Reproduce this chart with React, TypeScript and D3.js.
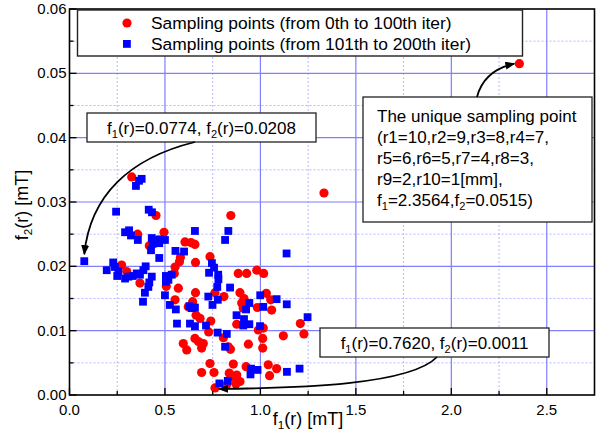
import React from "react";
import * as d3 from "d3";

// ---------- data ----------
const redX = [0.326,0.453,0.357,0.418,0.495,0.605,0.636,0.657,0.845,0.736,0.660,0.581,0.576,0.553,0.549,0.273,0.300,0.369,0.507,0.570,0.660,0.884,0.928,0.981,1.017,0.762,0.809,0.893,0.914,1.031,1.054,0.553,0.645,0.622,0.902,0.910,0.984,1.059,0.684,0.740,0.663,0.876,0.989,1.015,1.120,0.806,0.832,0.843,0.596,0.657,0.675,0.701,0.692,0.614,0.937,1.012,0.736,0.858,0.925,1.041,1.085,0.692,0.757,0.837,0.855,0.876,0.893,0.872,0.823,0.7620,1.209,1.228,1.012,0.729,1.048,2.3564,1.333];
const redY = [0.0339,0.0279,0.0250,0.0232,0.0253,0.0238,0.0237,0.0234,0.0279,0.0215,0.0206,0.0214,0.0207,0.0199,0.0189,0.0202,0.0192,0.0174,0.0169,0.0166,0.0159,0.0189,0.0189,0.0194,0.0189,0.0159,0.0153,0.0159,0.0150,0.0158,0.0148,0.0148,0.0145,0.0137,0.0143,0.0135,0.0136,0.0132,0.0119,0.0115,0.0124,0.0110,0.0101,0.0104,0.0092,0.0089,0.0075,0.0071,0.0080,0.0088,0.0083,0.0080,0.0073,0.0070,0.0079,0.0073,0.0049,0.0048,0.0044,0.0047,0.0041,0.0035,0.0035,0.0034,0.0028,0.0031,0.0021,0.0017,0.0016,0.0011,0.0111,0.0095,0.0088,0.0098,0.0030,0.0515,0.0314];

const blueX = [0.0774,0.348,0.364,0.378,0.244,0.415,0.432,0.291,0.312,0.322,0.358,0.431,0.453,0.474,0.500,0.436,0.470,0.427,0.470,0.555,0.600,0.657,0.195,0.229,0.238,0.256,0.250,0.291,0.308,0.331,0.352,0.369,0.399,0.387,0.431,0.418,0.413,0.505,0.518,0.535,0.505,0.395,0.500,0.832,0.815,1.137,0.746,0.757,0.779,0.780,0.731,0.774,0.841,0.999,1.085,0.727,0.777,0.749,0.628,0.657,0.640,0.942,0.925,1.015,1.138,0.875,0.914,0.910,0.942,0.998,0.631,0.657,0.715,0.776,0.824,0.815,0.951,0.948,0.985,1.139,1.205,0.785,0.829,1.247,0.385,0.526,0.557,0.563];
const blueY = [0.0208,0.0325,0.0333,0.0336,0.0285,0.0288,0.0284,0.0253,0.0256,0.0248,0.0241,0.0244,0.0241,0.0242,0.0241,0.0235,0.0236,0.0225,0.0213,0.0224,0.0223,0.0255,0.0194,0.0206,0.0199,0.0192,0.0185,0.0181,0.0184,0.0185,0.0189,0.0187,0.0200,0.0194,0.0184,0.0175,0.0168,0.0185,0.0179,0.0187,0.0176,0.0159,0.0155,0.0255,0.0241,0.0220,0.0205,0.0198,0.0187,0.0180,0.0190,0.0168,0.0167,0.0155,0.0149,0.0153,0.0148,0.0140,0.0138,0.0136,0.0135,0.0143,0.0133,0.0137,0.0141,0.0124,0.0118,0.0108,0.0110,0.0107,0.0111,0.0107,0.0108,0.0097,0.0095,0.0075,0.0041,0.0032,0.0039,0.0036,0.0041,0.0018,0.0022,0.0121,0.0145,0.0140,0.0133,0.0111];

const xTicks = [0, 0.5, 1.0, 1.5, 2.0, 2.5];
const yTicks = [0, 0.01, 0.02, 0.03, 0.04, 0.05, 0.06];
const xMinor = [0.25, 0.75, 1.25, 1.75, 2.25];
const yMinor = [0.005, 0.015, 0.025, 0.035, 0.045, 0.055];

const legendLabels = [
  "Sampling points (from 0th to 100th iter)",
  "Sampling points (from 101th to 200th iter)",
];
const boxLines = [
  "The unique sampling point",
  "(r1=10,r2=9,r3=8,r4=7,",
  "r5=6,r6=5,r7=4,r8=3,",
  "r9=2,r10=1[mm],",
];
const annA = { x: 0.0774, y: 0.0208, f1: "0.0774", f2: "0.0208" };
const annB = { x: 0.7620, y: 0.0011, f1: "0.7620", f2: "0.0011" };
const annC = { x: 2.3564, y: 0.0515, f1: "2.3564", f2: "0.0515" };

const W = 606, H = 435;
const L = 69.5, R = 594.5, T = 9, B = 395;
const FONT = "'Liberation Sans', Arial, Helvetica, sans-serif";

export default function App() {
  const x = d3.scaleLinear().domain([0, 2.75]).range([L, R]);
  const y = d3.scaleLinear().domain([0, 0.06]).range([B, T]);
  const fmtX = d3.format(".1f");
  const fmtY = d3.format(".2f");

  const Sub = ({ base, sub, rest, size }: any) => (
    <>
      {base}
      <tspan dy={4} fontSize={size * 0.65}>{sub}</tspan>
      <tspan dy={-4}>{rest}</tspan>
    </>
  );

  const aA = { x: x(annA.x), y: y(annA.y) };
  const aB = { x: x(annB.x), y: y(annB.y) };
  const aC = { x: x(annC.x), y: y(annC.y) };
  const pathA = `M195,142 C130,158 ${aA.x + 6},195 ${aA.x},${aA.y - 7}`;
  const pathB = `M437,357 C410,385 300,${aB.y} ${aB.x + 4},${aB.y + 1}`;
  const pathC = `M477,97 C482,78 495,68 ${aC.x - 5},${aC.y}`;

  return (
    <svg width={W} height={H} style={{ position: "absolute", left: 0, top: 0, background: "#fff" }} fontFamily={FONT}>
      <defs>
        <marker id="ah" viewBox="0 0 10 8" refX="9" refY="4" markerWidth="10" markerHeight="8" markerUnits="userSpaceOnUse" orient="auto">
          <path d="M0,0 L10,4 L0,8 z" fill="#000" />
        </marker>
        <clipPath id="plot"><rect x={L} y={T} width={R - L} height={B - T} /></clipPath>
      </defs>
      <rect x={0} y={0} width={W} height={H} fill="#fff" />
      {xMinor.map((v) => (
        <line key={"xm" + v} x1={x(v)} x2={x(v)} y1={T} y2={B} stroke="#b8b8ff" strokeWidth={1} strokeDasharray="2,2" />
      ))}
      {yMinor.map((v) => (
        <line key={"ym" + v} x1={L} x2={R} y1={y(v)} y2={y(v)} stroke="#b8b8ff" strokeWidth={1} strokeDasharray="2,2" />
      ))}
      {xTicks.slice(1).map((v) => (
        <line key={"xg" + v} x1={x(v)} x2={x(v)} y1={T} y2={B} stroke="#7f7fff" strokeWidth={1.2} />
      ))}
      {yTicks.slice(1, -1).map((v) => (
        <line key={"yg" + v} x1={L} x2={R} y1={y(v)} y2={y(v)} stroke="#7f7fff" strokeWidth={1.2} />
      ))}

      <g clipPath="url(#plot)">
        {redX.map((v, i) => (
          <circle key={"r" + i} cx={x(v)} cy={y(redY[i])} r={4.6} fill="#ff0000" />
        ))}
        {blueX.map((v, i) => (
          <rect key={"b" + i} x={x(v) - 3.9} y={y(blueY[i]) - 3.9} width={7.8} height={7.8} fill="#0000ff" />
        ))}
      </g>

      <rect x={L} y={T} width={R - L} height={B - T} fill="none" stroke="#000" strokeWidth={1.6} />

      {xTicks.map((v) => (
        <line key={"xt" + v} x1={x(v)} x2={x(v)} y1={B} y2={B - 7} stroke="#000" strokeWidth={1.3} />
      ))}
      {xMinor.map((v) => (
        <line key={"xmt" + v} x1={x(v)} x2={x(v)} y1={B} y2={B - 4} stroke="#000" strokeWidth={1.3} />
      ))}
      {yTicks.map((v) => (
        <line key={"yt" + v} x1={L} x2={L + 7} y1={y(v)} y2={y(v)} stroke="#000" strokeWidth={1.3} />
      ))}
      {yMinor.map((v) => (
        <line key={"ymt" + v} x1={L} x2={L + 4} y1={y(v)} y2={y(v)} stroke="#000" strokeWidth={1.3} />
      ))}

      {xTicks.map((v) => (
        <text key={"xl" + v} x={x(v)} y={415} textAnchor="middle" fontSize={15} fill="#000">{fmtX(v)}</text>
      ))}
      {yTicks.map((v) => (
        <text key={"yl" + v} x={L - 3} y={y(v) + 5} textAnchor="end" fontSize={15} fill="#000">{fmtY(v)}</text>
      ))}

      <text x={308} y={425} textAnchor="middle" fontSize={18} fill="#000">
        <Sub base="f" sub="1" rest="(r) [mT]" size={18} />
      </text>
      <text transform="translate(28,205) rotate(-90)" textAnchor="middle" fontSize={18} fill="#000">
        <Sub base="f" sub="2" rest="(r) [mT]" size={18} />
      </text>

      <rect x={77.5} y={10} width={445} height={46} fill="#fff" stroke="#222" strokeWidth={1.4} />
      <circle cx={127} cy={23} r={4.6} fill="#ff0000" />
      <rect x={123} y={40} width={7.8} height={7.8} fill="#0000ff" />
      {legendLabels.map((t, i) => (
        <text key={t} x={151} y={29 + i * 21} fontSize={17.4} fill="#000">{t}</text>
      ))}

      <rect x={87} y={113} width={229} height={29} fill="#fff" stroke="#222" strokeWidth={1.3} />
      <text x={201.5} y={134} textAnchor="middle" fontSize={17} fill="#000">
        <Sub base="f" sub="1" rest={`(r)=${annA.f1}, f`} size={17} />
        <tspan dy={4} fontSize={11}>2</tspan>
        <tspan dy={-4}>{`(r)=${annA.f2}`}</tspan>
      </text>
      <path d={pathA} fill="none" stroke="#000" strokeWidth={1.8} markerEnd="url(#ah)" />

      <rect x={320} y={328} width={229} height={29} fill="#fff" stroke="#222" strokeWidth={1.3} />
      <text x={434.5} y={349} textAnchor="middle" fontSize={17} fill="#000">
        <Sub base="f" sub="1" rest={`(r)=${annB.f1}, f`} size={17} />
        <tspan dy={4} fontSize={11}>2</tspan>
        <tspan dy={-4}>{`(r)=${annB.f2}`}</tspan>
      </text>
      <path d={pathB} fill="none" stroke="#000" strokeWidth={1.8} markerEnd="url(#ah)" />

      <rect x={363} y={97} width={229} height={125} fill="#fff" stroke="#222" strokeWidth={1.3} />
      {boxLines.map((t, i) => (
        <text key={t} x={377} y={122 + i * 21} fontSize={17} fill="#000">{t}</text>
      ))}
      <text x={377} y={122 + 4 * 21} fontSize={17} fill="#000">
        <Sub base="f" sub="1" rest={`=${annC.f1},f`} size={17} />
        <tspan dy={4} fontSize={11}>2</tspan>
        <tspan dy={-4}>{`=${annC.f2})`}</tspan>
      </text>
      <path d={pathC} fill="none" stroke="#000" strokeWidth={1.8} markerEnd="url(#ah)" />
    </svg>
  );
}
